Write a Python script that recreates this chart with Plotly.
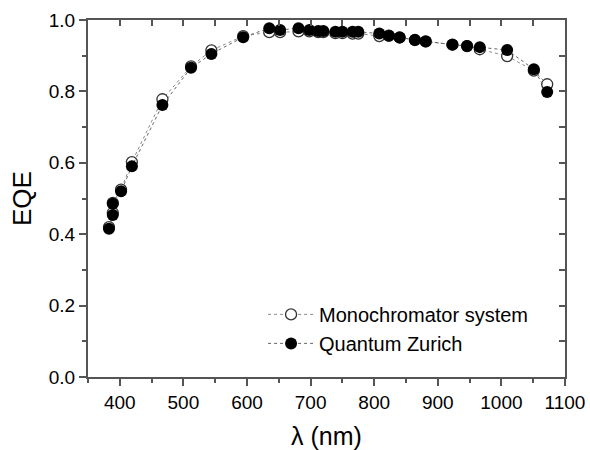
import plotly.graph_objects as go

wavelength = [383, 389, 389, 402, 419, 467, 512, 544, 594, 635, 652, 681, 698, 712,
              720, 739, 750, 766, 775, 808, 823, 840, 864, 881, 923, 946, 966, 1009,
              1051, 1072]
eqe_mono = [0.42, 0.46, 0.488, 0.525, 0.602, 0.778, 0.870, 0.915, 0.955, 0.966, 0.966,
            0.968, 0.968, 0.966, 0.966, 0.963, 0.963, 0.962, 0.962, 0.955, 0.956, 0.951,
            0.944, 0.940, 0.931, 0.927, 0.918, 0.899, 0.858, 0.820]
eqe_qz = [0.415, 0.454, 0.485, 0.520, 0.590, 0.762, 0.866, 0.905, 0.952, 0.977, 0.972,
          0.977, 0.972, 0.969, 0.969, 0.967, 0.967, 0.967, 0.967, 0.962, 0.956, 0.951,
          0.944, 0.940, 0.931, 0.927, 0.924, 0.916, 0.862, 0.798]

names = ["Monochromator system", "Quantum Zurich"]
FONT = "Liberation Sans, Arial, sans-serif"

fig = go.Figure()
fig.add_trace(go.Scatter(
    x=wavelength, y=eqe_mono, name=names[0], mode="lines+markers",
    line=dict(color="#8a8a8a", width=1, dash="dot"),
    marker=dict(symbol="circle", size=11, color="white",
                line=dict(color="#333333", width=1.3)),
))
fig.add_trace(go.Scatter(
    x=wavelength, y=eqe_qz, name=names[1], mode="lines+markers",
    line=dict(color="#666666", width=1, dash="dot"),
    marker=dict(symbol="circle", size=12, color="black",
                line=dict(color="black", width=0)),
))

axis_color = "#555555"
fig.update_layout(
    width=590, height=450,
    margin=dict(l=88, r=25, t=20, b=73),
    paper_bgcolor="white", plot_bgcolor="white",
    font=dict(family=FONT, color="black", size=19),
    showlegend=True,
    legend=dict(x=0.367, y=0.23, xanchor="left", yanchor="top",
                bgcolor="rgba(0,0,0,0)", font=dict(size=20, family=FONT),
                itemwidth=46, tracegroupgap=0),
    xaxis=dict(range=[350, 1100], dtick=100, tick0=0, showgrid=False, zeroline=False,
               automargin=False,
               showline=True, linecolor=axis_color, linewidth=2,
               ticks="outside", ticklen=7, tickwidth=1.5, tickcolor=axis_color,
               minor=dict(ticks="outside", ticklen=4, dtick=50, tickcolor=axis_color,
                          tickwidth=1.5, showgrid=False),
               title=dict(text="λ (nm)", font=dict(size=25, family=FONT), standoff=16),
               tickfont=dict(size=19, family=FONT)),
    yaxis=dict(range=[0, 1.0], dtick=0.2, tickformat=".1f", showgrid=False, zeroline=False,
               automargin=False,
               showline=True, linecolor=axis_color, linewidth=2,
               ticks="outside", ticklen=7, tickwidth=1.5, tickcolor=axis_color,
               minor=dict(ticks="outside", ticklen=4, dtick=0.1, tickcolor=axis_color,
                          tickwidth=1.5, showgrid=False),
               title=dict(text="EQE", font=dict(size=26, family=FONT), standoff=10),
               tickfont=dict(size=19, family=FONT)),
    xaxis2=dict(range=[350, 1100], overlaying="x", side="top", dtick=50, tick0=0,
                showgrid=False, zeroline=False, showline=True, linecolor=axis_color,
                linewidth=2, ticks="inside", ticklen=6, tickwidth=1.5,
                tickcolor=axis_color, showticklabels=False),
    yaxis2=dict(range=[0, 1.0], overlaying="y", side="right", dtick=0.1,
                showgrid=False, zeroline=False, showline=True, linecolor=axis_color,
                linewidth=2, ticks="inside", ticklen=6, tickwidth=1.5,
                tickcolor=axis_color, showticklabels=False),
)
# invisible trace to activate the mirror axes
fig.add_trace(go.Scatter(x=[wavelength[0]], y=[eqe_qz[0]], xaxis="x2", yaxis="y2",
                         mode="markers", marker=dict(opacity=0), showlegend=False,
                         hoverinfo="skip"))
fig.write_html("out.html")
